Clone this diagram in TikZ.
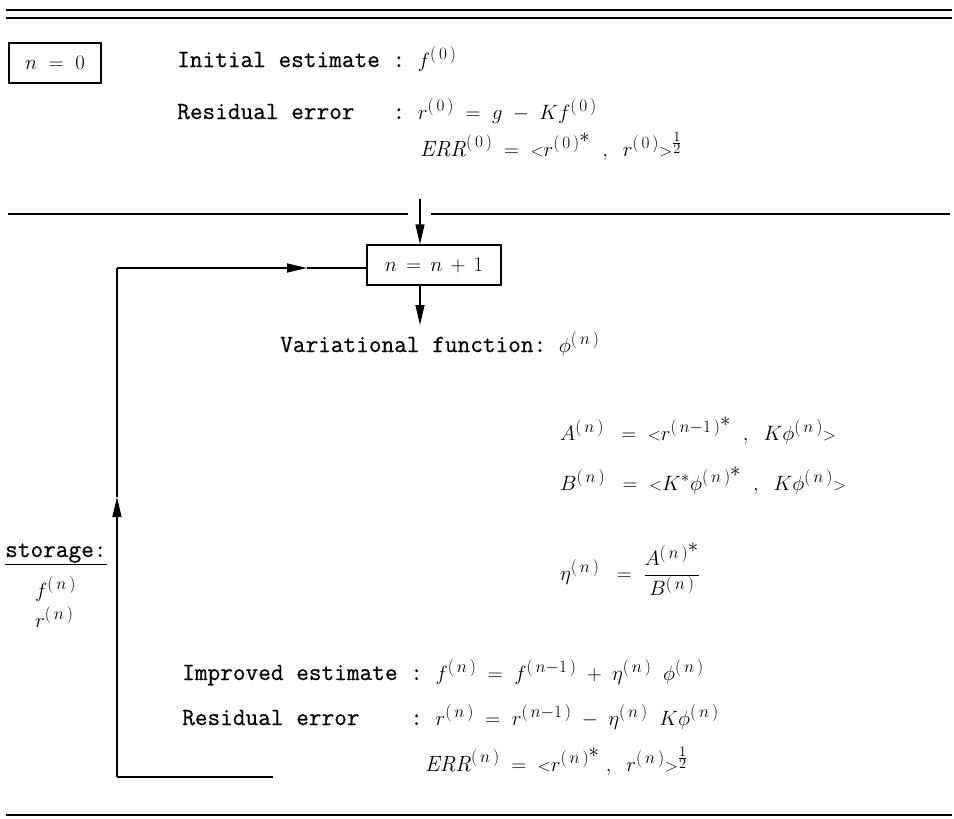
\documentclass[tikz,border=0pt]{standalone}
\usepackage{fontspec}
\setmonofont{Latin Modern Mono}[FakeBold=0.5]
\DeclareMathSizes{22}{22}{18}{14}
\usetikzlibrary{arrows.meta}
\newcommand{\lt}{{\scriptstyle <}}
\newcommand{\gt}{{\scriptstyle >}}
\newcommand{\pw}[1]{^{(\,#1\,)}}
\newcommand{\pws}[1]{^{(\,#1\,)^{\textstyle *}}}
\newcommand{\mth}[1]{{\fontsize{22}{26}\selectfont$#1$}}
\begin{document}
\begin{tikzpicture}[x=1pt,y=-1pt,
  rule/.style={line width=1.2pt},
  txt/.style={anchor=base west, inner sep=0pt, font=\fontsize{24.6}{28}\selectfont\ttfamily},
  eqn/.style={anchor=base west, inner sep=0pt, font=\fontsize{22}{26}\selectfont},
  boxed/.style={draw, line width=1.3pt, inner sep=0pt, font=\fontsize{22}{26}\selectfont},
  flow/.style={line width=1.3pt},
  tip/.style={-{Triangle[length=20pt,width=9pt]}}
]
\useasboundingbox (0,0) rectangle (954,819);
% top double rule
\draw[rule] (6,10) -- (952,10);
\draw[rule] (6,18) -- (952,18);
% n = 0 block
\node[boxed, minimum width=92pt, minimum height=40pt] (n0) at (55,63) {$n\;=\;0$};
\node[txt] (init) at (177,67) {Initial estimate : \mth{f\pw{0}}};
\node[txt] (res0) at (177,119) {Residual~error~~~: \mth{r\pw{0}\;=\;g\;-\;Kf\pw{0}}};
\node[eqn] (err0) at (420,156) {$\mathit{ERR}\pw{0}\;=\;\lt r\pws{0}\;\;,\;\;r\pw{0}\gt^{\frac{1}{2}}$};
% separator
\draw[rule] (8,214) -- (408,214);
\draw[rule] (431,214) -- (950,214);
% loop box
\coordinate (intop) at (420,199);
\node[boxed, minimum width=134pt, minimum height=40pt] (inc) at (434,265) {$n\,=\,n\,+\,1$};
\draw[flow,tip] (intop) -- (intop |- inc.north);
\coordinate (vfa) at (420,325);
\draw[flow,tip] (vfa |- inc.south) -- (vfa);
\node[txt] (vf) at (280,352) {Variational function: \mth{\phi\pw{n}}};
\node[eqn] (Aeq) at (560,440) {$A\pw{n}\;\;=\;\lt r^{(\,n{-}1\,)^{\textstyle *}}\;\;,\;\;K\phi\pw{n}\gt$};
\node[eqn] (Beq) at (560,490) {$B\pw{n}\;\;=\;\lt K^{*}\phi\pws{n}\;\;,\;\;K\phi\pw{n}\gt$};
\node[eqn] (eta) at (560,580) {$\eta\pw{n}\;\;=\;\displaystyle\frac{A\pws{n}}{B\pw{n}}$};
% storage
\node[txt] (stor) at (5,557) {\underline{storage:}};
\node[eqn] (fn) at (35,597) {$f\pw{n}$};
\node[eqn] (rn) at (35,627) {$r\pw{n}$};
% lower block
\node[txt] (imp) at (182,680) {Improved estimate : \mth{f\pw{n}\;=\;f^{(\,n{-}1\,)}\;+\;\eta\pw{n}\;\;\phi\pw{n}}};
\node[txt] (res) at (182,725) {Residual~error~~~~: \mth{r\pw{n}\;=\;r^{(\,n{-}1\,)}\;-\;\eta\pw{n}\;\;K\phi\pw{n}}};
\node[eqn] (errn) at (425,771) {$\mathit{ERR}\pw{n}\;=\;\lt r\pws{n}\;,\;\;r\pw{n}\gt^{\frac{1}{2}}$};
% feedback path
\coordinate (fbs) at (273,777);
\coordinate (fbc) at (117,777);
\coordinate (fbu) at (117,497);
\coordinate (fbx) at (307,0);
\path (inc.west) ++(0,3) -| coordinate (fbt) (fbc);
\path (inc.west) ++(0,3) -| coordinate (fbm) (fbx);
\draw[flow] (fbs) -- (fbc);
\draw[flow,tip] (fbc) -- (fbu);
\draw[flow] (fbu) -- (fbt);
\draw[flow,tip] (fbt) -- (fbm);
\draw[flow] (fbm) -- (fbm -| inc.west);
% bottom rule
\draw[rule] (6,815) -- (952,815);
\end{tikzpicture}
\end{document}
